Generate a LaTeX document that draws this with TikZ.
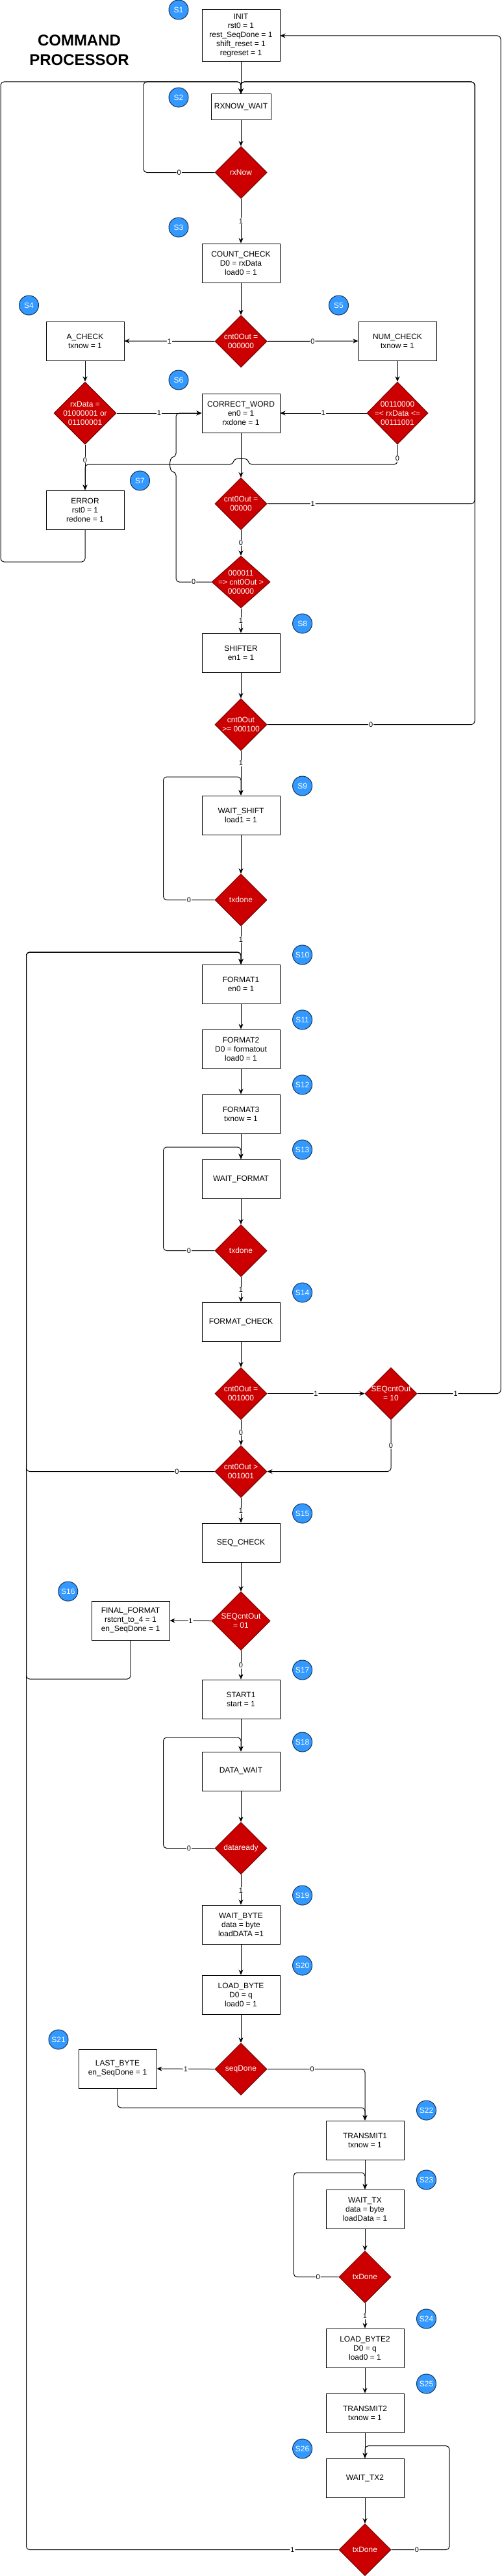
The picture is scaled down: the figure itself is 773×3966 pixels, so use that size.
\documentclass[tikz,border=0pt]{standalone}
\usepackage{fontspec}
\setmainfont{Liberation Sans}
\usetikzlibrary{shapes.geometric,arrows.meta}

\begin{document}
\begin{tikzpicture}[x=1pt,y=-1pt,
  box/.style={draw,line width=1pt,minimum width=120pt,minimum height=60pt,inner sep=0pt,align=center,font=\fontsize{12}{14}\selectfont},
  dec/.style={diamond,draw=kDarkRed,line width=1pt,fill=kRed,minimum width=80pt,minimum height=80pt,inner sep=0pt},
  dtext/.style={text=white,align=center,inner sep=0pt,font=\fontsize{12}{14}\selectfont},
  state/.style={circle,draw=kNavy,line width=1pt,fill=kBlue,minimum size=30pt,inner sep=0pt,text=white,font=\fontsize{12}{14}\selectfont},
  flow/.style={line width=1pt,rounded corners=5pt,-{Stealth[length=8pt,width=7pt]}},
  lbl/.style={fill=white,inner sep=1pt,font=\fontsize{11}{11}\selectfont}]
  % colors
  \definecolor{kRed}{RGB}{204,0,0}
  \definecolor{kDarkRed}{RGB}{110,0,0}
  \definecolor{kBlue}{RGB}{51,153,255}
  \definecolor{kNavy}{RGB}{20,50,90}
  \useasboundingbox (0,0) rectangle (773,3966);

  \node[font=\bfseries\fontsize{24}{30}\selectfont,align=center] (title) at (122,77) {COMMAND\\PROCESSOR};

  % states
  \node[box,minimum height=80pt] (init) at (371,55) {INIT\\rst0 = 1\\rest\_SeqDone = 1\\shift\_reset = 1\\regreset = 1};
  \node[box,minimum width=92pt,minimum height=40pt] (rxwait) at (371,165) {RXNOW\_WAIT};
  \node[box] (count) at (371,405) {COUNT\_CHECK\\D0 = rxData\\load0 = 1};
  \node[box] (acheck) at (131,525) {A\_CHECK\\txnow = 1};
  \node[box] (numcheck) at (612,525) {NUM\_CHECK\\txnow = 1};
  \node[box] (correct) at (371,636) {CORRECT\_WORD\\en0 = 1\\rxdone = 1};
  \node[box] (error) at (131,785) {ERROR\\rst0 = 1\\redone = 1};
  \node[box] (shifter) at (371,1005) {SHIFTER\\en1 = 1};
  \node[box] (waitshift) at (371,1255) {WAIT\_SHIFT\\load1 = 1};
  \node[box] (format1) at (371,1515) {FORMAT1\\en0 = 1};
  \node[box] (format2) at (371,1615) {FORMAT2\\D0 = formatout\\load0 = 1};
  \node[box] (format3) at (371,1715) {FORMAT3\\txnow = 1};
  \node[box] (waitformat) at (371,1815) {WAIT\_FORMAT};
  \node[box] (fcheck) at (371,2035) {FORMAT\_CHECK};
  \node[box] (seqcheck) at (371,2375) {SEQ\_CHECK};
  \node[box] (final) at (201,2495) {FINAL\_FORMAT\\rstcnt\_to\_4 = 1\\en\_SeqDone = 1};
  \node[box] (start) at (371,2616) {START1\\start = 1};
  \node[box] (datawait) at (371,2727) {DATA\_WAIT};
  \node[box] (waitbyte) at (371,2963) {WAIT\_BYTE\\data = byte\\loadDATA =1};
  \node[box] (loadbyte) at (371,3071) {LOAD\_BYTE\\D0 = q\\load0 = 1};
  \node[box] (lastbyte) at (181,3185) {LAST\_BYTE\\en\_SeqDone = 1};
  \node[box] (transmit1) at (562,3295) {TRANSMIT1\\txnow = 1};
  \node[box] (waittx) at (562,3401) {WAIT\_TX\\data = byte\\loadData = 1};
  \node[box] (loadbyte2) at (562,3615) {LOAD\_BYTE2\\D0 = q\\load0 = 1};
  \node[box] (transmit2) at (562,3715) {TRANSMIT2\\txnow = 1};
  \node[box] (waittx2) at (562,3815) {WAIT\_TX2};

  % decisions
  \node[dec,label={[dtext]center:rxNow}] (rxnow) at (371,265.5) {};
  \node[dec,label={[dtext]center:cnt0Out =\\000000}] (cnt0) at (371,525.5) {};
  \node[dec,minimum width=96pt,minimum height=96pt,label={[dtext]center:rxData =\\01000001 or\\01100001}] (isletter) at (131,636) {};
  \node[dec,minimum width=94pt,minimum height=96pt,label={[dtext]center:00110000\\=< rxData <=\\00111001}] (isnum) at (612,636) {};
  \node[dec,label={[dtext]center:cnt0Out =\\00000}] (cnt5) at (371,775.5) {};
  \node[dec,minimum width=90pt,label={[dtext]center:000011\\=> cnt0Out >\\000000}] (cntrange) at (371,896) {};
  \node[dec,label={[dtext]center:cnt0Out\\>= 000100}] (cnt4) at (371,1115.5) {};
  \node[dec,label={[dtext]center:txdone}] (txdone1) at (371,1385.5) {};
  \node[dec,label={[dtext]center:txdone}] (txdone2) at (371,1925.5) {};
  \node[dec,label={[dtext]center:cnt0Out =\\001000}] (cnt8) at (371,2145.5) {};
  \node[dec,label={[dtext]center:SEQcntOut\\= 10}] (seq10) at (602,2145.5) {};
  \node[dec,label={[dtext]center:cnt0Out >\\001001}] (cnt9) at (371,2265.5) {};
  \node[dec,minimum width=90pt,minimum height=90pt,label={[dtext]center:SEQcntOut\\= 01}] (seq01) at (371,2495.5) {};
  \node[dec,label={[dtext]center:dataready}] (dready) at (371,2845.5) {};
  \node[dec,label={[dtext]center:seqDone}] (seqdone) at (371,3185.5) {};
  \node[dec,label={[dtext]center:txDone}] (txdone3) at (562,3505.5) {};
  \node[dec,label={[dtext]center:txDone}] (txdone4) at (562,3925.5) {};

  % state numbers
  \foreach \n/\x/\y in {1/275/15,2/275/150,3/275/350,4/44.5/470,5/521.5/470,6/275/585,
    7/215.5/740,8/465.6/960,9/465.6/1210,10/465.6/1470,11/465.6/1570,12/465.6/1670,
    13/465.6/1770,14/465.6/1990,15/465.6/2330,16/104.8/2450,17/465.6/2571,18/465.6/2682,
    19/465.6/2918,20/465.6/3026,21/90/3140,22/656.5/3249,23/656.5/3356,24/656.5/3570,
    25/656.5/3670,26/465.6/3770}
    \node[state] (s\n) at (\x,\y) {S\n};

  % plain transitions
  \foreach \a/\b in {init/rxwait,rxwait/rxnow,count/cnt0,acheck/isletter,numcheck/isnum,
    correct/cnt5,shifter/cnt4,waitshift/txdone1,format1/format2,format2/format3,
    format3/waitformat,waitformat/txdone2,fcheck/cnt8,seqcheck/seq01,start/datawait,
    datawait/dready,waitbyte/loadbyte,loadbyte/seqdone,transmit1/waittx,waittx/txdone3,
    loadbyte2/transmit2,transmit2/waittx2,waittx2/txdone4}
    \draw[flow] (\a.south) -- (\b.north);

  % labelled transitions, downwards
  \foreach \a/\b/\t/\p in {rxnow/count/1/.5,cnt5/cntrange/0/.5,cntrange/shifter/1/.5,
    cnt4/waitshift/1/.28,txdone1/format1/1/.35,txdone2/fcheck/1/.52,cnt8/cnt9/0/.5,
    cnt9/seqcheck/1/.52,seq01/start/0/.52,dready/waitbyte/1/.52,txdone3/loadbyte2/1/.52,
    isletter/error/0/.34}
    \draw[flow] (\a.south) -- node[lbl,pos=\p]{\t} (\b.north);

  % labelled transitions, sideways
  \draw[flow] (cnt0.west) -- node[lbl]{1} (acheck.east);
  \draw[flow] (cnt0.east) -- node[lbl]{0} (numcheck.west);
  \draw[flow] (isletter.east) -- node[lbl]{1} (correct.west);
  \draw[flow] (isnum.west) -- node[lbl]{1} (correct.east);
  \draw[flow] (cnt8.east) -- node[lbl]{1} (seq10.west);
  \draw[flow] (seq01.west) -- node[lbl]{1} (final.east);
  \draw[flow] (seqdone.west) -- node[lbl]{1} (lastbyte.east);

  % loops back
  \draw[flow] (rxnow.west) -| node[lbl,pos=.25]{0} (221,126) -| (rxwait.north);
  \draw[flow] (error.south) |- (1,865) |- (371,126) -- (rxwait.north);
  \draw[flow] (cnt5.east) -| node[lbl,pos=.11]{1} (731,126) -| (rxwait.north);
  \draw[flow] (cnt4.east) -| node[lbl,pos=.25]{0} (731,126) -| (rxwait.north);
  \draw[flow] (isnum.south) -- node[lbl,pos=.7]{0} (612,715) -- (383,715)
    .. controls (381,704) and (361,704) .. (359,715) -- (131,715) -- (error.north);
  \draw[flow] (cntrange.west) -- node[lbl]{0} (271,896) -- (271,727)
    .. controls (260,725) and (260,705) .. (271,703) -- (271,636) -- (correct.west);
  \draw[flow] (txdone1.west) -| node[lbl,pos=.25]{0} (251.6,1196) -| (waitshift.north);
  \draw[flow] (txdone2.west) -| node[lbl,pos=.25]{0} (251.6,1766) -| (waitformat.north);
  \draw[flow] (seq10.east) -| node[lbl,pos=.23]{1} (771,55) -- (init.east);
  \draw[flow] (seq10.south) |- node[lbl,pos=.25]{0} (cnt9.east);
  \draw[flow] (cnt9.west) -| node[lbl,pos=.1]{0} (40.5,1466) -| (format1.north);
  \draw[flow] (final.south) |- (40.5,2585) |- (371,1466) -- (format1.north);
  \draw[flow] (dready.west) -| node[lbl,pos=.25]{0} (251.6,2675) -| (datawait.north);
  \draw[flow] (seqdone.east) -| node[lbl,pos=.23]{0} (transmit1.north);
  \draw[flow] (lastbyte.south) |- (562,3245) -- (transmit1.north);
  \draw[flow] (txdone3.west) -| node[lbl,pos=.23]{0} (452.3,3345) -| (waittx.north);
  \draw[flow] (txdone4.east) -| node[lbl,pos=.22]{0} (692,3765.7) -| (waittx2.north);
  \draw[flow] (txdone4.west) -| node[lbl,pos=.074]{1} (40.5,1466) -| (format1.north);
\end{tikzpicture}
\end{document}
